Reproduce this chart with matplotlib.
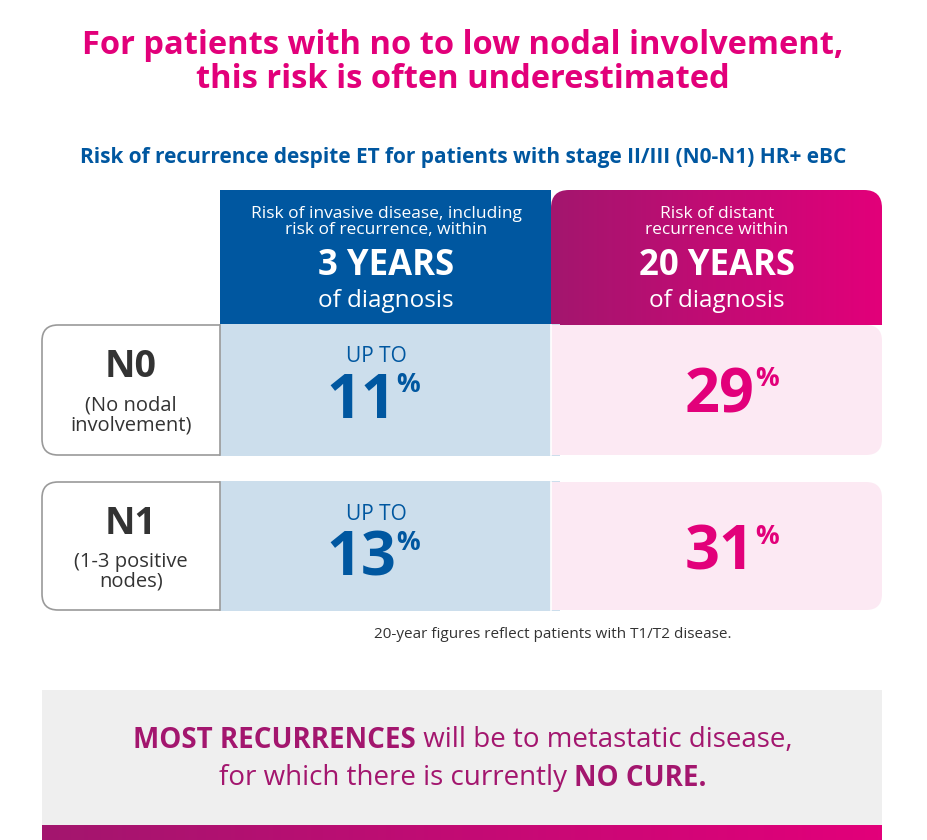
import matplotlib
matplotlib.use("Agg")
import matplotlib.pyplot as plt
import numpy as np
from matplotlib.patches import FancyBboxPatch, Rectangle
from matplotlib.colors import LinearSegmentedColormap

rows = ["N0", "N1"]
row_sub = ["(No nodal\ninvolvement)", "(1-3 positive\nnodes)"]
risk_3yr = [11, 13]
risk_20yr = [29, 31]

MAG = "#E2007A"; PUR = "#A3166E"; BLUE = "#0057A0"
LBLUE = "#CCDEEC"; LPINK = "#FCE9F3"
FONT = "Open Sans"

fig = plt.figure(figsize=(9.27, 8.4), dpi=100)
ax = fig.add_axes([0, 0, 1, 1])
ax.set_xlim(0, 927); ax.set_ylim(840, 0); ax.axis("off")
grad = LinearSegmentedColormap.from_list("g", [PUR, MAG])

def T(x, y, s, **k):
    k.setdefault("family", FONT)
    return ax.text(x, y, s, ha=k.pop("ha", "center"), va=k.pop("va", "center"), **k)

T(463, 45, "For patients with no to low nodal involvement,", color=MAG, fontsize=23.5, weight="bold")
T(463, 79, "this risk is often underestimated", color=MAG, fontsize=23.5, weight="bold")
T(463, 158, "Risk of recurrence despite ET for patients with stage II/III (N0-N1) HR+ eBC", color=BLUE, fontsize=15, weight="bold")

ax.add_patch(Rectangle((220, 190), 331, 135, color=BLUE, lw=0))
hdr = FancyBboxPatch((551, 190), 331, 160, boxstyle="round,pad=0,rounding_size=18", color="none", lw=0)
ax.add_patch(hdr)
im = ax.imshow(np.linspace(0, 1, 200)[None, :], cmap=grad, extent=(551, 882, 325, 190), aspect="auto", zorder=1)
im.set_clip_path(hdr)
ax.set_xlim(0, 927); ax.set_ylim(840, 0)
T(386, 222, "Risk of invasive disease, including\nrisk of recurrence, within", color="white", fontsize=12.5, linespacing=0.95)
T(386, 266, "3 YEARS", color="white", fontsize=25, weight="bold")
T(386, 301, "of diagnosis", color="white", fontsize=17.5)
T(717, 222, "Risk of distant\nrecurrence within", color="white", fontsize=12.5, linespacing=0.95)
T(717, 266, "20 YEARS", color="white", fontsize=25, weight="bold")
T(717, 301, "of diagnosis", color="white", fontsize=17.5)

tops = [325, 482]
for i, r in enumerate(rows):
    y0 = tops[i]; h = 130 if i == 0 else 128
    ax.add_patch(FancyBboxPatch((42, y0), 200, h, boxstyle="round,pad=0,rounding_size=16", fc="white", ec="#9A9A9A", lw=1.2, zorder=1))
    ax.add_patch(FancyBboxPatch((551, y0), 331, h, boxstyle="round,pad=0,rounding_size=16", fc=LPINK, lw=0, zorder=1))
    ax.add_patch(Rectangle((220, y0 - 1), 340, h + 2, fc=LBLUE, lw=0, zorder=2))
    ax.add_patch(Rectangle((551, y0), 60, h, fc=LPINK, lw=0, zorder=2))
    ax.add_line(plt.Line2D([220, 220], [y0, y0 + h], color="#9A9A9A", lw=1.2, zorder=3))
    ax.plot([551, 551], [y0, y0 + h], color="white", lw=1.2, zorder=3)
    T(131, y0 + 42, r, color="#333333", fontsize=27, weight="bold", zorder=4)
    T(131, y0 + 90, row_sub[i], color="#333333", fontsize=14.5, linespacing=1.0, zorder=4)
    T(376, y0 + 32, "UP TO", color=BLUE, fontsize=15, zorder=4)
    T(396, y0 + 78, f"{risk_3yr[i]}", color=BLUE, fontsize=44, weight="bold", ha="right", zorder=4)
    T(396, y0 + 60, "%", color=BLUE, fontsize=19, weight="bold", ha="left", zorder=4)
    T(755, y0 + 72, f"{risk_20yr[i]}", color=MAG, fontsize=44, weight="bold", ha="right", zorder=4)
    T(755, y0 + 54, "%", color=MAG, fontsize=19, weight="bold", ha="left", zorder=4)

T(553, 634, "20-year figures reflect patients with T1/T2 disease.", color="#333333", fontsize=11)

ax.add_patch(Rectangle((42, 690), 840, 135, fc="#EFEFEF", lw=0))
ax.imshow(np.linspace(0, 1, 200)[None, :], cmap=grad, extent=(42, 882, 840, 823), aspect="auto")
ax.set_xlim(0, 927); ax.set_ylim(840, 0)

fig.canvas.draw()
r = fig.canvas.get_renderer()
def mixed(y, parts, size):
    ts = [T(0, y, s, color=PUR, fontsize=size, weight=w, ha="left") for s, w in parts]
    ws = [t.get_window_extent(r).width for t in ts]
    x = 463 - sum(ws) / 2
    for t, w in zip(ts, ws):
        t.set_x(x); x += w
mixed(740, [("MOST RECURRENCES", "bold"), (" will be to metastatic disease,", "normal")], 20)
mixed(778, [("for which there is currently ", "normal"), ("NO CURE.", "bold")], 20)

fig.savefig("out.png", dpi=100)
